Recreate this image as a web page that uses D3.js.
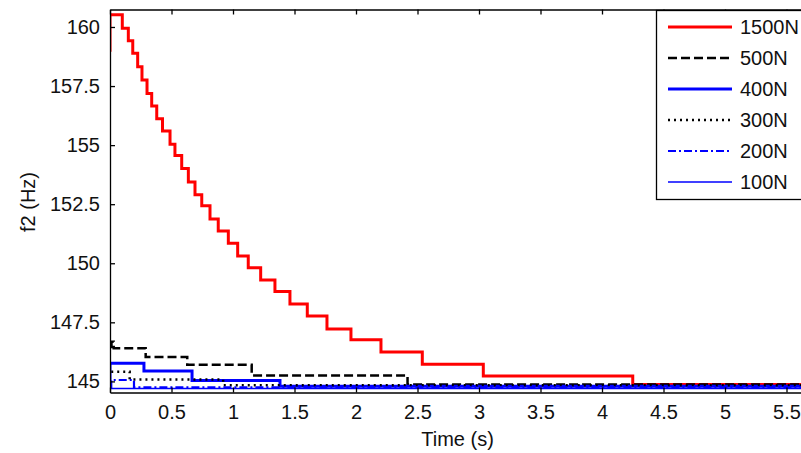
<!DOCTYPE html>
<html>
<head>
<meta charset="utf-8">
<script src="https://cdn.jsdelivr.net/npm/d3@7"></script>
<style>
  html, body { margin: 0; padding: 0; background: #fff; }
  text { font-family: "Liberation Sans", Arial, Helvetica, sans-serif; fill: #111; }
</style>
</head>
<body>
<svg id="chart" width="801" height="453"></svg>
<script>
// ---- data (step series: value f[i] holds from time t[i]) ----
const seriesNames = ["1500N", "500N", "400N", "300N", "200N", "100N"];
const tEnd = 5.7;

const t1500 = [0, 0, 0.100, 0.149, 0.185, 0.225, 0.260, 0.301, 0.339, 0.380, 0.427,
  0.488, 0.528, 0.583, 0.637, 0.691, 0.746, 0.813, 0.880, 0.962, 1.038,
  1.124, 1.225, 1.341, 1.463, 1.604, 1.764, 1.959, 2.203, 2.539, 3.035, 4.250];
const f1500 = [158.95, 160.52, 159.95, 159.42, 158.89, 158.32, 157.76, 157.19, 156.66, 156.12, 155.60,
  155.04, 154.56, 154.01, 153.44, 152.90, 152.43, 151.87, 151.37, 150.85, 150.31,
  149.81, 149.29, 148.80, 148.28, 147.77, 147.22, 146.76, 146.24, 145.73, 145.23, 144.87];

const t500 = [0.012, 0.012, 0.03, 0.290, 0.628, 1.152, 2.419];
const f500 = [146.40, 146.68, 146.40, 146.03, 145.70, 145.25, 144.87];

const t400 = [0, 0, 0.276, 0.667, 1.382];
const f400 = [144.70, 145.77, 145.44, 145.04, 144.79];

const t300 = [0.01, 0.16, 0.92];
const f300 = [145.41, 145.08, 144.84];

const t200 = [0.01, 0.01, 0.195];
const f200 = [144.70, 145.06, 144.75];

const t100 = [0];
const f100 = [144.70];

const xTicks = [0, 0.5, 1, 1.5, 2, 2.5, 3, 3.5, 4, 4.5, 5, 5.5];
const yTicks = [145, 147.5, 150, 152.5, 155, 157.5, 160];
const xLabel = "Time (s)";
const yLabel = "f2 (Hz)";

// ---- styles ----
const styles = {
  "1500N": { color: "#ff0000", width: 3, dash: null },
  "500N":  { color: "#000000", width: 2.5, dash: "9,4" },
  "400N":  { color: "#0000ff", width: 3, dash: null },
  "300N":  { color: "#000000", width: 2.5, dash: "2,4" },
  "200N":  { color: "#0000ff", width: 2.2, dash: "8,3,2,3" },
  "100N":  { color: "#0000ff", width: 1.5, dash: null }
};
const times = { "1500N": t1500, "500N": t500, "400N": t400, "300N": t300, "200N": t200, "100N": t100 };
const vals  = { "1500N": f1500, "500N": f500, "400N": f400, "300N": f300, "200N": f200, "100N": f100 };

// ---- layout ----
const svg = d3.select("#chart");
const pLeft = 110, pRight = 811.1, pTop = 9.5, pBottom = 392.5;

const x = d3.scaleLinear().domain([0, tEnd]).range([pLeft, pRight]);
const y = d3.scaleLinear().domain([144.53, 160.74]).range([pBottom, pTop]);

svg.append("rect").attr("width", 801).attr("height", 453).attr("fill", "#fff");

svg.append("defs").append("clipPath").attr("id", "clip")
  .append("rect").attr("x", pLeft).attr("y", pTop - 2).attr("width", pRight - pLeft).attr("height", pBottom - pTop + 2);

// lines
const line = d3.line().x(d => x(d[0])).y(d => y(d[1])).curve(d3.curveStepAfter);
const g = svg.append("g").attr("clip-path", "url(#clip)");
seriesNames.forEach(name => {
  const ts = times[name], fs = vals[name];
  const pts = ts.map((t, i) => [t, fs[i]]);
  pts.push([tEnd, fs[fs.length - 1]]);
  const st = styles[name];
  g.append("path")
    .attr("d", line(pts))
    .attr("fill", "none")
    .attr("stroke", st.color)
    .attr("stroke-width", st.width)
    .attr("stroke-dasharray", st.dash)
    .attr("stroke-linejoin", "miter");
});

// axes
const fontSize = 20;
const xAxis = svg.append("g").attr("transform", `translate(0,${pBottom})`)
  .call(d3.axisBottom(x).tickValues(xTicks).tickSize(-5).tickSizeOuter(0).tickPadding(12)
    .tickFormat(d3.format("~g")));
const xTop = svg.append("g").attr("transform", `translate(0,${pTop})`)
  .call(d3.axisTop(x).tickValues(xTicks).tickSize(-5).tickSizeOuter(0).tickFormat(""));
const yAxis = svg.append("g").attr("transform", `translate(${pLeft},0)`)
  .call(d3.axisLeft(y).tickValues(yTicks).tickSize(-5).tickSizeOuter(0).tickPadding(10)
    .tickFormat(d3.format("~g")));

[xAxis, xTop, yAxis].forEach(a => {
  a.selectAll("path.domain").attr("stroke", "#000").attr("stroke-width", 1.3);
  a.selectAll(".tick line").attr("stroke", "#000").attr("stroke-width", 1.3);
  a.selectAll("text").attr("font-size", fontSize).attr("fill", "#111")
    .attr("font-family", "Liberation Sans, Arial, sans-serif");
});

// axis labels
svg.append("text").attr("x", (pLeft + pRight) / 2 - 3).attr("y", 446)
  .attr("text-anchor", "middle").attr("font-size", fontSize).text(xLabel);
svg.append("text").attr("transform", `translate(28,202) rotate(-90)`)
  .attr("text-anchor", "middle").attr("dy", "0.35em").attr("font-size", fontSize).text(yLabel);

// legend
const lg = svg.append("g");
const lgTop = 10, rowH = 31, row0 = 27;
lg.append("rect").attr("x", 656.5).attr("y", lgTop + 0.5)
  .attr("width", 200).attr("height", 189)
  .attr("fill", "#fff").attr("stroke", "#000").attr("stroke-width", 1.3);
seriesNames.forEach((name, i) => {
  const st = styles[name];
  const yy = row0 + i * rowH;
  lg.append("line").attr("x1", 668).attr("x2", 732).attr("y1", yy).attr("y2", yy)
    .attr("stroke", st.color).attr("stroke-width", st.width)
    .attr("stroke-dasharray", st.dash);
  lg.append("text").attr("x", 740).attr("y", yy).attr("dy", "0.35em")
    .attr("font-size", fontSize).text(name);
});
</script>
</body>
</html>
